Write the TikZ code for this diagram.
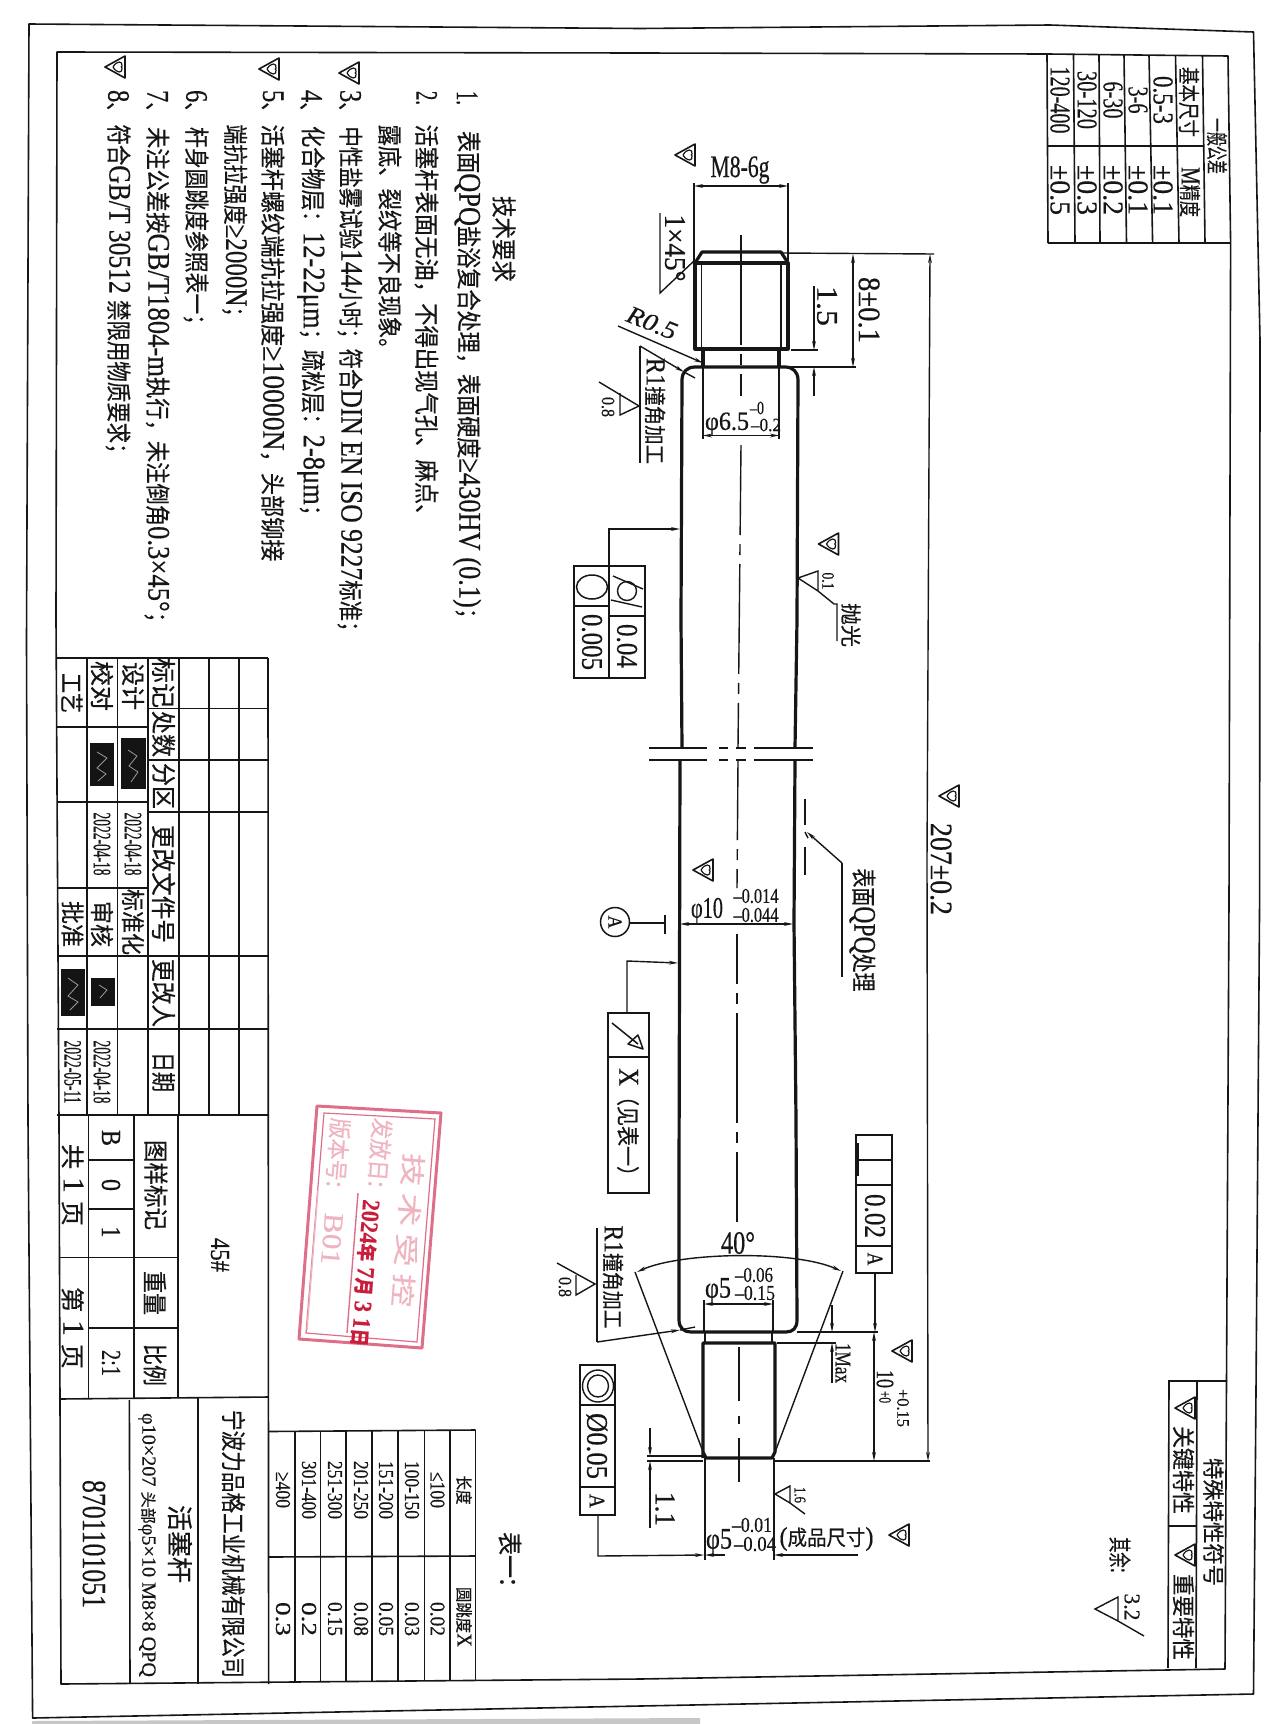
\documentclass[tikz,border=0pt]{standalone}
\usepackage{fontspec}
\usepackage{graphicx}
\setmainfont[Scale=1.25,FakeBold=0.5]{Liberation Serif}
\newfontfamily\cjk[FakeBold=0.5]{Noto Sans CJK SC}
\newcommand\Cj[1]{{\cjk #1}}
\usetikzlibrary{arrows.meta}
\definecolor{ink}{HTML}{161616}
\definecolor{stampL}{HTML}{EFB4C0}
\definecolor{stampF}{HTML}{DE6F88}
\definecolor{stampD}{HTML}{C81E3C}
\tikzset{
  tx/.style={inner sep=0pt,outer sep=0pt,text=ink,anchor=center},
  thinl/.style={draw=ink,line width=1.4pt},
  tabl/.style={draw=ink,line width=1.6pt},
  thick2/.style={draw=ink,line width=3.2pt,line join=round},
  dimen/.style={draw=ink,line width=1.4pt,-{Stealth[length=9pt,width=3.8pt]}},
  dimen2/.style={draw=ink,line width=1.4pt,{Stealth[length=9pt,width=3.8pt]}-{Stealth[length=9pt,width=3.8pt]}},
  axisl/.style={draw=ink,line width=1.4pt,dash pattern=on 110pt off 9pt on 11pt off 9pt},
}
% rotation, x, y, font size, target length, text
\newcommand\Tx[6][-90]{\node[tx,rotate=#1] at (#2,#3) {\fontsize{#4pt}{#4pt}\selectfont\resizebox{#5pt}{\height}{#6}};}
\newcommand\Keym[2]{\begin{scope}[shift={(#1,#2)}]
  \draw[draw=ink,line width=1.6pt,line join=round] (-10,0)--(10,-11)--(10,11)--cycle;
  \draw[draw=ink,line width=1.2pt] (-2,0) .. controls (2,-7) and (8,-6) .. (7,-1) .. controls (6,0) and (6,0) .. (7,1) .. controls (8,6) and (2,7) .. (-2,0);
\end{scope}}
\begin{document}
\begin{tikzpicture}[x=1pt,y=-1pt]
\useasboundingbox (0,0) rectangle (1280,1724);
\fill[white] (0,0) rectangle (1280,1724);
\fill[black!22] (32,1721) -- (700,1718) -- (700,1724) -- (32,1724) -- cycle;
% frames
\draw[draw=ink,line width=1.6pt,line join=round] (29,24)--(640,28.5)--(1050,25)--(1253.5,32)--(1260,340)--(1259.6,900)--(1256,1390)--(1253.5,1694)--(640,1706)--(32.6,1718)--(28,1120)--(26.5,640)--cycle;
\draw[draw=ink,line width=1.6pt,line join=round] (57,52)--(640,53)--(1048,54)--(1228,56)--(1230.6,243)--(1229,900)--(1225,1669)--(640,1679)--(61,1684)--(59,1120)--(56,620)--cycle;
% general tolerance table
\foreach \a/\b in {1047/1048,1073.5/1075,1099/1100,1124/1126.5,1149/1152.6,1175.5/1179,1202.5/1205}{\draw[tabl] (\a,55)--(\b,243);}
\draw[tabl] (1048,243)--(1230.6,243);
\draw[tabl] (1047,146)--(1203,146);
\Tx{1217}{146}{22}{56}{\Cj{一般公差}}
\Tx{1189}{102}{22}{70}{\Cj{基本尺寸}}
\Tx{1190}{192}{22}{50}{M\Cj{精度}}
\foreach \x/\a/\la/\b in {1163/0.5-3/48/{±0.1},1138/3-6/27/{±0.1},1113/6-30/37/{±0.2},1087/30-120/58/{±0.3},1060/120-400/67/{±0.5}}{
 \Tx{\x}{100}{23}{\la}{\a}
 \Tx{\x}{190}{23}{50}{\b}
}
% technical requirements
\Tx{504}{239}{25}{86}{\Cj{技术要求}}
\Tx{467}{98}{25}{14}{1.}
\Tx{467}{380}{25}{498}{\Cj{表面}QPQ\Cj{盐浴复合处理，表面硬度}≥430HV (0.1)\Cj{；}}
\Tx{426.5}{98}{25}{14}{2.}
\Tx{426.5}{325.5}{25}{402}{\Cj{活塞杆表面无油，不得出现气孔、麻点、}}
\Tx{390}{242}{25}{235}{\Cj{露底、裂纹等不良现象。}}
\foreach \x/\n in {350/3,311/4,272.6/5,196/6,157/7,118/8}{\Tx{\x}{106}{25}{32}{\n\Cj{、}}}
\Tx{350}{384}{25}{515}{\Cj{中性盐雾试验}144\Cj{小时；符合}DIN EN ISO 9227\Cj{标准；}}
\Tx{311}{326}{25}{400}{\Cj{化合物层：}12-22μm\Cj{；疏松层：}2-8μm\Cj{；}}
\Tx{272.6}{343}{25}{437}{\Cj{活塞杆螺纹端抗拉强度}≥10000N\Cj{，头部铆接}}
\Tx{234.7}{225.5}{25}{202}{\Cj{端抗拉强度}≥2000N\Cj{；}}
\Tx{196}{231}{25}{208}{\Cj{杆身圆跳度参照表一；}}
\Tx{157}{380}{25}{506}{\Cj{未注公差按}GB/T1804-m\Cj{执行，未注倒角}0.3×45°\Cj{；}}
\Tx{118}{294}{25}{339}{\Cj{符合}GB/T 30512 \Cj{禁限用物质要求；}}
\Keym{115}{67}\Keym{269}{69}\Keym{349}{73}
% shaft
\draw[thick2] (682,748)--(681,620)--(682,380) .. controls (682,372) and (687,367) .. (695,367)--(785,367) .. controls (793,367) and (798,372) .. (798,380)--(797,620)--(795,748);
\draw[thick2] (680,760)--(679,1177)--(679,1320) .. controls (679,1328) and (684,1332) .. (691,1332)--(786,1332) .. controls (793,1332) and (797,1328) .. (797,1320)--(796,1120)--(794,923)--(795,760);
\draw[thick2] (703,351)--(703,367);\draw[thick2] (779,351)--(779,367);
\draw[thick2] (695,263)--(695,349)--(788,349)--(788,263)--cycle;
\draw[thick2] (695,263)--(702,252)--(781,252)--(788,263);
\draw[thinl] (701.5,263)--(701.5,349);\draw[thinl] (781,263)--(781,349);
\draw[thick2] (703,1458)--(703,1343)--(775,1343)--(775,1452)--(772,1458)--(706,1458)--(703,1452);
\draw[thinl] (705,1332)--(705,1343);\draw[thinl] (772,1332)--(772,1343);
% axis
\draw[axisl] (741,235)--(741,396);
\draw[axisl,dash phase=20pt] (741,445)--(738,748);
\draw[axisl,dash phase=30pt] (738,760)--(737,888);
\draw[axisl,dash phase=60pt] (737,934)--(737,1222);
\draw[axisl,dash phase=0pt,dash pattern=on 54pt off 15pt on 8pt off 14pt on 60pt] (739,1347)--(739,1482);
% break lines
\foreach \y in {748,760}{
 \draw[thinl] (649,\y)--(707,\y);\draw[thinl] (719,\y)--(728,\y);\draw[thinl] (736,\y)--(746,\y);\draw[thinl] (754,\y)--(813,\y);
}
% thread dims
\draw[thinl] (694,183)--(694,263);\draw[thinl] (788,183)--(788,263);
\draw[dimen2] (694,186)--(788,186);
\Tx[0]{740}{170}{25}{59}{M8-6g}
\Keym{685}{155}
\draw[thinl] (660,213)--(660,293)--(695,260);
\Tx{675}{248}{24}{67}{1×45°}
\draw[dimen] (618,326)--(703,363);
\Tx[-22]{652}{323}{20}{52}{\textit{R0.5}}
\draw[dimen] (640,346)--(684,372);\draw[thinl] (684,372)--(695,378);
\draw[thinl] (640,346)--(640,463);
\Tx{655}{411}{22}{106}{R1\Cj{撞角加工}}
\draw[thinl] (599,382)--(639,406)--(620,415)--(620,393);
\Tx{608}{407}{15}{20}{0.8}
% 6.5
\draw[thinl] (703,367)--(703,439);\draw[thinl] (779,367)--(779,439);
\draw[dimen2] (703,435.5)--(779,435.5);
\Tx[0]{727}{424}{21}{44}{φ6.5}
\Tx[0]{757}{408}{15}{14}{–0}
\Tx[0]{766}{425}{15}{30}{–0.2}
% 8 +-0.1, 1.5
\draw[thinl] (781,253)--(934,254);
\draw[thinl] (782,367)--(856,367);
\draw[dimen2] (853,254)--(853,367);
\Tx{869}{310}{25}{66}{8±0.1}
\draw[thinl] (791,350)--(817.5,350);
\draw[dimen] (814,286)--(814,350);
\draw[dimen] (814,396)--(814,367);
\Tx{827}{306}{24}{40}{1.5}
% 207
\draw[draw=ink,line width=1.4pt,{Stealth[length=9pt,width=3.8pt]}-{Stealth[length=9pt,width=3.8pt]}] (930,254)--(927,860)--(928,1461);
\draw[thinl] (775,1461)--(930,1461);
\Tx{941}{869}{25}{92}{207±0.2}
\Keym{949}{796}
% top FCF
\draw[dimen] (609,566)--(609,529)--(680,529);
\draw[tabl] (574,566) rectangle (645,678);
\draw[tabl] (609,566)--(609,678);
\draw[tabl] (574,606)--(609,606);\draw[tabl] (609,616)--(645,616);
\draw[draw=ink,line width=1.5pt] (592,587) ellipse [x radius=15.5pt,y radius=12pt];
\draw[draw=ink,line width=1.4pt] (627,591) circle [radius=9.5pt];
\draw[draw=ink,line width=1.4pt] (613,576)--(643,589);\draw[draw=ink,line width=1.4pt] (611,600)--(642,607);
\Tx{627}{646}{24}{44}{0.04}
\Tx{592}{642}{24}{56}{0.005}
% 0.1 polish
\draw[thinl] (818,591)--(798,578)--(818,571)--(818,591)--(834,604)--(837,604)--(837,641);
\Tx{828}{581}{14}{17}{0.1}
\Tx{851}{625}{21}{44}{\Cj{抛光}}
\Keym{828.5}{544}
% QPQ mark
\draw[draw=ink,line width=2pt] (805,799)--(805,825);\draw[draw=ink,line width=2pt] (805,847)--(805,875);
\draw[draw=ink,line width=1.4pt] (805,832)--(808,838);
\draw[dimen] (842,863)--(807,832);
\draw[thinl] (842,863)--(842,977);
\Tx{862.4}{930}{25}{123}{\Cj{表面}QPQ\Cj{处理}}
% phi 10
\draw[dimen2] (680,924)--(793,924);
\Tx[0]{707}{911}{24}{32}{φ10}
\Tx[0]{756}{896}{17}{45}{–0.014}
\Tx[0]{756}{915}{17}{45}{–0.044}
\Keym{703}{870}
% datum A
\draw[draw=ink,line width=1.5pt] (615,922) circle [radius=14.5pt];
\Tx{615}{922}{16}{13}{A}
\draw[thinl] (630,923)--(665,923);
\draw[draw=ink,line width=1.8pt] (665,915)--(665,934);
% X FCF
\draw[dimen] (627,1013)--(627,961)--(678,963);
\draw[tabl] (608,1013) rectangle (649,1193);
\draw[tabl] (608,1057)--(649,1057);
\draw[draw=ink,line width=1.5pt] (612,1023)--(638,1044);
\draw[draw=ink,line width=1.5pt,line join=round] (643,1049)--(628,1044)--(638,1035)--cycle;
\Tx{628}{1127}{23}{118}{X\Cj{（见表一）}}
% perp FCF
\draw[dimen] (875,1273)--(875,1332);
\draw[tabl] (856,1135) rectangle (892,1273);
\draw[tabl] (856,1185)--(892,1185);\draw[tabl] (856,1246)--(892,1246);
\draw[tabl] (858,1160)--(892,1160);
\draw[draw=ink,line width=2.6pt] (858,1143)--(858,1176);
\Tx{875}{1216}{24}{44}{0.02}
\Tx{875}{1259}{18}{13}{A}
% 40 degrees
\draw[draw=ink,line width=1.4pt,{Stealth[length=9pt,width=3.8pt]}-{Stealth[length=9pt,width=3.8pt]}] (637,1272) .. controls (680,1252) and (795,1250) .. (841,1271);
\draw[thinl] (635,1272)--(705,1457);
\draw[thinl] (843,1271)--(774,1455);
\Tx[0]{738}{1243}{26}{34}{40°}
% phi 5 upper
\draw[thinl] (704,1300)--(704,1332);\draw[thinl] (773,1300)--(773,1332);
\draw[dimen2] (704,1304)--(773,1304);
\Tx[0]{718}{1291}{24}{26}{φ5}
\Tx[0]{754}{1275}{17}{38}{–0.06}
\Tx[0]{755}{1293}{17}{40}{–0.15}
% R1 lower
\draw[thinl] (597,1228)--(597,1342);
\draw[dimen] (597,1342)--(680,1330);\draw[thinl] (680,1330)--(695,1327);
\Tx{613}{1277}{22}{103}{R1\Cj{撞角加工}}
\draw[thinl] (557,1263)--(595,1284)--(576,1295)--(576,1275);
\Tx{565}{1287}{15}{20}{0.8}
% 1Max
\draw[thinl] (797,1332)--(878,1332);
\draw[thinl] (777,1343)--(836,1343);
\draw[dimen] (832,1305)--(832,1332);
\draw[dimen] (832,1383)--(832,1343);
\Tx{843}{1363}{18}{40}{1Max}
% dim 10
\draw[dimen2] (874,1332)--(874,1461);
\Tx{885}{1379}{20}{18}{10}
\Tx{885}{1397}{14}{12}{+0}
\Tx{903}{1408}{14}{38}{+0.15}
\Keym{902}{1351}
% 1.1
\draw[thinl] (647,1456)--(703,1456);\draw[thinl] (647,1461)--(703,1461);
\draw[dimen] (650,1428)--(650,1456);
\draw[dimen] (650,1528)--(650,1461);
\Tx{665}{1509}{23}{34}{1.1}
% concentricity FCF
\draw[dimen] (598,1515)--(598,1556)--(704,1555);
\draw[tabl] (580,1365) rectangle (615,1515);
\draw[tabl] (580,1405)--(615,1405);\draw[tabl] (580,1487)--(615,1487);
\draw[draw=ink,line width=1.4pt] (598,1386) ellipse [x radius=15.5pt,y radius=16pt];
\draw[draw=ink,line width=1.4pt] (598,1386) ellipse [x radius=10.5pt,y radius=11pt];
\Tx{597}{1446}{24}{66}{Ø0.05}
\Tx{597}{1501}{18}{14}{A}
% phi 5 lower
\draw[thinl] (705,1458)--(705,1560);\draw[thinl] (774,1458)--(774,1560);
\draw[dimen] (858,1555)--(774,1555);
\draw[dimen] (725,1555)--(705,1555);
\Tx[0]{719}{1542}{24}{26}{φ5}
\Tx[0]{752}{1525}{17}{40}{–0.01}
\Tx[0]{755}{1544}{17}{42}{–0.04}
\Tx[0]{826.5}{1539}{21}{94}{(\Cj{成品尺寸})}
\Keym{899}{1535}
\draw[thinl] (790,1503)--(775,1494)--(790,1486)--(790,1503)--(805,1514);
\Tx{800}{1495}{13}{16}{1.6}
% special characteristics
\draw[tabl] (1227,1381)--(1169,1381)--(1168,1668);
\draw[tabl] (1197,1381)--(1196,1668);
\draw[tabl] (1169,1526)--(1197,1526);
\Tx{1213.5}{1522}{22}{128}{\Cj{特殊特性符号}}
\Keym{1185}{1408}\Keym{1185}{1555}
\Tx{1183.5}{1470}{23}{88}{\Cj{关键特性}}
\Tx{1183.5}{1617}{23}{86}{\Cj{重要特性}}
\Tx{1120}{1555}{23}{36}{\Cj{其余}:}
\draw[thinl] (1118,1621)--(1095,1609)--(1118,1597)--(1118,1621)--(1144,1636);
\Tx{1132}{1607}{18}{27}{3.2}
% table one
\Tx{510}{1559}{25}{54}{\Cj{表一}:}
\foreach \x in {294.7,320.4,346,372,398,424.5,450}{\draw[tabl] (\x,1431)--(\x,1681);}
\draw[tabl] (268.6,1431.5)--(475.5,1430);
\draw[tabl] (475.5,1430)--(475.5,1680);
\draw[tabl] (268.6,1557)--(475.5,1556);
\Tx{464}{1490}{17}{29}{\Cj{长度}}
\Tx{464}{1617}{17}{60}{\Cj{圆跳度}X}
\foreach \x/\a/\la/\b in {437.5/{≤100}/36/0.02,412/100-150/58/0.03,386/151-200/58/0.05,361/201-250/58/0.08,335/251-300/58/0.15,309/301-400/58/0.2,283/{≥400}/36/0.3}{
 \Tx{\x}{1490}{17}{\la}{\a}
 \Tx{\x}{1619}{17}{34}{\b}
}
% title block
\draw[tabl] (268,658)--(268.6,1684);
\draw[tabl] (56,658)--(268,658);
\foreach \y in {708.5,760,812,956,1029,1115}{\draw[tabl] (148,\y)--(268,\y);}
\foreach \x in {179,209,239}{\draw[tabl] (\x,658)--(\x,1115);}
\draw[tabl] (148,658)--(148,1115);
\draw[tabl] (87,658)--(87,1115);\draw[tabl] (117.5,658)--(117.5,1115);
\foreach \y in {727,802,888,956,1029,1115}{\draw[tabl] (57,\y)--(148,\y);}
\Tx{163.5}{683}{25}{50}{\Cj{标记}}
\Tx{163.5}{734}{25}{46}{\Cj{处数}}
\Tx{163.5}{786}{25}{46}{\Cj{分区}}
\Tx{163.5}{884}{25}{118}{\Cj{更改文件号}}
\Tx{163.5}{993}{25}{68}{\Cj{更改人}}
\Tx{163.5}{1072}{25}{40}{\Cj{日期}}
\Tx{133}{686}{24}{48}{\Cj{设计}}
\Tx{102}{686}{24}{50}{\Cj{校对}}
\Tx{72}{693}{24}{40}{\Cj{工艺}}
\Tx{133}{844}{20}{63}{2022-04-18}
\Tx{102}{844}{20}{63}{2022-04-18}
\Tx{133}{922}{24}{66}{\Cj{标准化}}
\Tx{102}{924}{24}{46}{\Cj{审核}}
\Tx{72.6}{924}{24}{46}{\Cj{批准}}
\Tx{102}{1072}{20}{63}{2022-04-18}
\Tx{72.6}{1072}{20}{63}{2022-05-11}
\fill[black!92] (121,738) rectangle (146,789);
\fill[black!92] (90,743) rectangle (114,786);
\fill[black!92] (91,978) rectangle (115,1006);
\fill[black!92] (61,969) rectangle (84.5,1016);
\draw[black!40,line width=.8pt] (128,750)--(137,756)--(129,766)--(138,772)--(131,782);
\draw[black!40,line width=.8pt] (97,752)--(107,758)--(97,768)--(106,774)--(98,781);
\draw[black!40,line width=.8pt] (99,985)--(107,990)--(100,998);
\draw[black!40,line width=.8pt] (68,978)--(78,985)--(68,996)--(78,1002)--(70,1010);
% lower title block
\draw[tabl] (59,1399)--(268.6,1397);
\draw[tabl] (178,1115)--(178,1398);
\draw[tabl] (134,1115)--(134,1399);
\draw[tabl] (88.6,1115)--(88.6,1399);
\draw[tabl] (134,1257.5)--(178,1257.5);\draw[tabl] (134,1328)--(178,1328);
\draw[tabl] (88.6,1160)--(134,1160);\draw[tabl] (88.6,1209)--(134,1209);
\draw[tabl] (59,1257.5)--(134,1257.5);\draw[tabl] (88.6,1328)--(134,1328);
\Tx{220}{1255}{22}{34}{45\#}
\Tx{156}{1185}{25}{90}{\Cj{图样标记}}
\Tx{155}{1293}{25}{44}{\Cj{重量}}
\Tx{155}{1365}{25}{42}{\Cj{比例}}
\Tx{111}{1138}{22}{16}{B}
\Tx{111}{1185}{22}{12}{0}
\Tx{111}{1232}{22}{11}{1}
\Tx{111}{1363}{22}{26}{2:1}
\Tx{72.6}{1185}{24}{82}{\Cj{共} 1 \Cj{页}}
\Tx{72.6}{1328}{24}{82}{\Cj{第} 1 \Cj{页}}
\draw[tabl] (129.4,1400)--(130,1684);
\draw[tabl] (198,1398)--(198,1684);
\Tx{94}{1544}{27}{128}{8701101051}
\Tx{180}{1544}{26}{78}{\Cj{活塞杆}}
\Tx{147}{1545}{16}{264}{φ10×207 \Cj{头部}φ5×10 M8×8 QPQ}
\Tx{233.5}{1544}{25}{268}{\Cj{宁波力品格工业机械有限公司}}
% stamp
\draw[stampF,line width=3pt,line join=round] (317,1106)--(441,1113)--(422,1348)--(299,1339)--cycle;
\draw[stampF,line width=1.2pt] (324,1113)--(435,1119)--(417,1342)--(306,1333)--cycle;
\Tx[-94.6]{408}{1230}{25}{154}{\textcolor{stampL}{\Cj{技 术 受 控}}}
\Tx[-94.6]{380}{1153}{23}{70}{\textcolor{stampL}{\Cj{发放日}:}}
\Tx[-94.6]{338}{1153}{23}{70}{\textcolor{stampL}{\Cj{版本号}:}}
\Tx[-94.6]{332}{1239}{22}{52}{\textcolor{stampL}{B01}}
\draw[stampF,line width=1.4pt] (358,1193)--(347,1333);
\draw[stampL,line width=1.4pt] (318,1190)--(307,1330);
\Tx[-94.6]{365}{1273}{20}{147}{\textcolor{stampD}{\bfseries 2024{\cjk\bfseries 年} 7{\cjk\bfseries 月} 3 1{\cjk\bfseries 日}}}
\end{tikzpicture}
\end{document}
